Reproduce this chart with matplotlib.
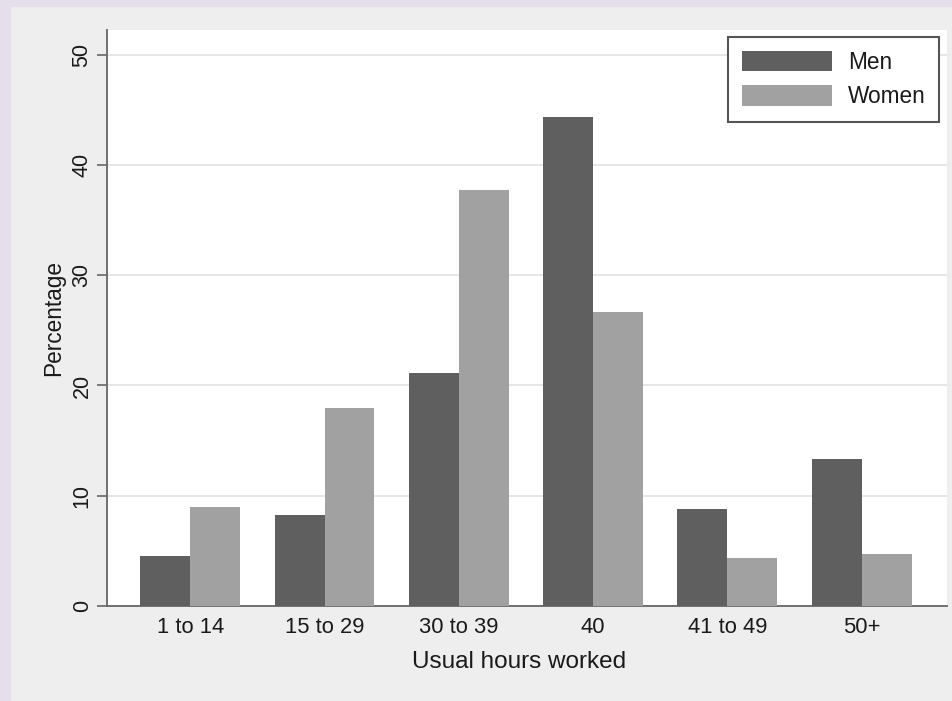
import matplotlib
matplotlib.use("Agg")
import matplotlib.pyplot as plt
import numpy as np
from matplotlib.patches import Rectangle

plt.rcParams['font.family'] = ['Liberation Sans', 'DejaVu Sans']

# data
categories = ['1 to 14', '15 to 29', '30 to 39', '40', '41 to 49', '50+']
men = [4.55, 8.2, 21.1, 44.4, 8.75, 13.3]
women = [8.95, 17.95, 37.75, 26.7, 4.3, 4.7]
yticks = [0, 10, 20, 30, 40, 50]

men_color = '#5f5f5f'
women_color = '#a1a1a1'
text_color = '#1a1a1a'
axis_color = '#666666'

fig = plt.figure(figsize=(9.53, 7.01), dpi=100)
fig.patch.set_facecolor('#eeeeee')
# lavender frame strips on top/left like the screenshot
fig.patches.append(Rectangle((0, 0), 10 / 953, 1, transform=fig.transFigure,
                             color='#e5dfeb', zorder=0))
fig.patches.append(Rectangle((0, 1 - 6 / 701), 1, 6 / 701, transform=fig.transFigure,
                             color='#e5dfeb', zorder=0))

ax = fig.add_axes([0.1118, 0.1360, 0.8816, 0.8213])
ax.set_facecolor('white')

x = np.arange(len(categories))
width = 0.372
ax.bar(x - width / 2, men, width, color=men_color, label='Men', zorder=3)
ax.bar(x + width / 2, women, width, color=women_color, label='Women', zorder=3)

ax.set_xlim(-0.623, 5.633)
ax.set_ylim(0, 52.3)

ax.set_yticks(yticks)
ax.set_yticklabels([str(t) for t in yticks], rotation=90, va='center',
                   fontsize=15.5, color=text_color)
ax.set_xticks(x)
ax.set_xticklabels(categories, fontsize=15.8, color=text_color)

ax.tick_params(axis='y', length=7, width=1.2, color=axis_color, pad=3)
ax.tick_params(axis='x', length=0, pad=8)

ax.grid(axis='y', color='#e4e4e4', linewidth=1.3, zorder=0)
ax.set_axisbelow(True)

for side in ['top', 'right']:
    ax.spines[side].set_visible(False)
for side in ['left', 'bottom']:
    ax.spines[side].set_color(axis_color)
    ax.spines[side].set_linewidth(1.3)

ax.set_ylabel('Percentage', fontsize=16.3, color=text_color)
ax.yaxis.set_label_coords(-0.049, 0.5)
ax.set_xlabel('Usual hours worked', fontsize=17.5, color=text_color)
ax.xaxis.set_label_coords(0.491, -0.079)

leg = ax.legend(loc='upper right', bbox_to_anchor=(0.9908, 0.9878), borderaxespad=0,
                fontsize=16.3, handlelength=4.0, handleheight=1.04,
                handletextpad=0.68, labelspacing=0.5, borderpad=0.6,
                fancybox=False, framealpha=1)
leg.get_frame().set_edgecolor('#555555')
leg.get_frame().set_linewidth(1.5)
for t in leg.get_texts():
    t.set_color(text_color)

fig.savefig('out.png', dpi=100, facecolor=fig.get_facecolor())
